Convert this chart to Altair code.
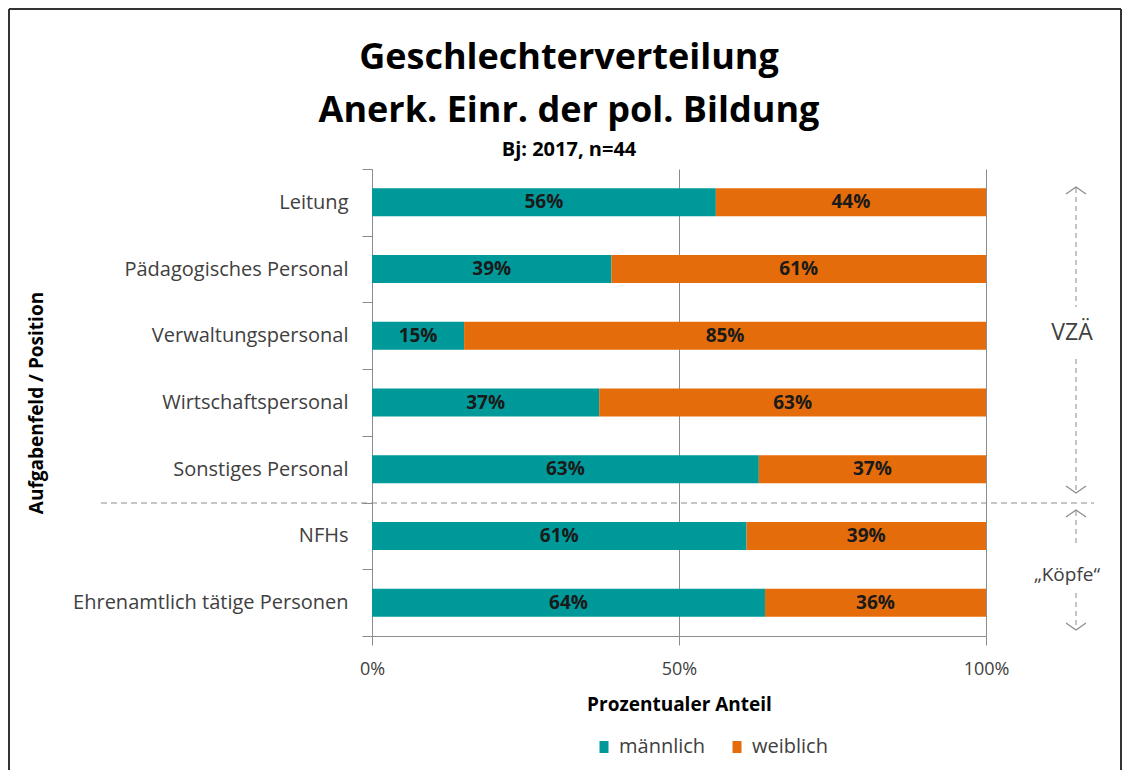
import altair as alt
import pandas as pd

# ---------------- data ----------------
categories = [
    "Leitung",
    "Pädagogisches Personal",
    "Verwaltungspersonal",
    "Wirtschaftspersonal",
    "Sonstiges Personal",
    "NFHs",
    "Ehrenamtlich tätige Personen",
]
maennlich = [56, 39, 15, 37, 63, 61, 64]
weiblich = [44, 61, 85, 63, 37, 39, 36]
series = ["männlich", "weiblich"]
colors = ["#009999", "#E46C0A"]
x_ticks = [0, 50, 100]

title_lines = ["Geschlechterverteilung", "Anerk. Einr. der pol. Bildung"]
subtitle = "Bj: 2017, n=44"
group_labels = ["VZÄ", "„Köpfe“"]

rows = []
for c, m, w in zip(categories, maennlich, weiblich):
    rows.append({"Aufgabenfeld": c, "Geschlecht": series[0], "Anteil": m, "ord": 0})
    rows.append({"Aufgabenfeld": c, "Geschlecht": series[1], "Anteil": w, "ord": 1})
df = pd.DataFrame(rows)

W, H = 614, 467
FONT = "Open Sans"
GRAY = "#8c8c8c"
TXT = "#404040"

base = (
    alt.Chart(df)
    .transform_stack(
        stack="Anteil",
        groupby=["Aufgabenfeld"],
        as_=["x0", "x1"],
        sort=[alt.SortField("ord", order="ascending")],
    )
    .transform_calculate(mid="(datum.x0 + datum.x1) / 2", label="datum.Anteil + '%'")
)

y_enc = alt.Y(
    "Aufgabenfeld:N",
    sort=categories,
    scale=alt.Scale(paddingInner=0, paddingOuter=0),
    axis=alt.Axis(
        title="Aufgabenfeld  / Position",
        titleFont=FONT,
        titleFontSize=19,
        titleFontWeight="bold",
        titleColor="#000000",
        titleX=-326,
        titleY=H / 2,
        labelFont=FONT,
        labelFontSize=20,
        labelColor=TXT,
        labelPadding=14,
        labelLimit=500,
        tickBand="extent",
        tickSize=10,
        tickColor=GRAY,
        domainColor=GRAY,
        grid=False,
    ),
)

x_scale = alt.Scale(domain=[0, 100], nice=False)
x_axis = alt.Axis(
    values=x_ticks,
    labelExpr="datum.value + '%'",
    labelFlush=False,
    title="Prozentualer Anteil",
    titleFont=FONT,
    titleFontSize=19,
    titleFontWeight="bold",
    titleColor="#000000",
    titleY=59,
    labelFont=FONT,
    labelFontSize=18,
    labelColor=TXT,
    labelPadding=15,
    tickSize=9,
    tickColor=GRAY,
    domainColor=GRAY,
    grid=True,
    gridColor=GRAY,
    gridOpacity=1,
)

bars = base.mark_bar(size=28).encode(
    x=alt.X("x0:Q", scale=x_scale, axis=x_axis),
    x2="x1:Q",
    y=y_enc,
    color=alt.Color(
        "Geschlecht:N",
        scale=alt.Scale(domain=series, range=colors),
        legend=alt.Legend(
            title=None,
            orient="none",
            direction="horizontal",
            legendX=222,
            legendY=568,
            symbolType="M-0.75,-1H0.75V1H-0.75Z",
            symbolSize=144,
            symbolStrokeWidth=0,
            symbolOpacity=1,
            labelFont=FONT,
            labelFontSize=20,
            labelColor=TXT,
            columnPadding=21,
            labelOffset=5,
        ),
    ),
)

bar_text = base.mark_text(
    font=FONT, fontSize=19, fontWeight="bold", color="#1a1a1a"
).encode(
    x=alt.X("mid:Q", scale=x_scale),
    y=alt.Y("Aufgabenfeld:N", sort=categories),
    text="label:N",
)

one = alt.Data(values=[{}])


def rule(x, x2, y, y2, color, width=1, dash=None):
    kw = dict(color=color, strokeWidth=width)
    if dash:
        kw["strokeDash"] = dash
    return alt.Chart(one).mark_rule(**kw).encode(
        x=alt.value(x), x2=alt.value(x2), y=alt.value(y), y2=alt.value(y2)
    )


def text(t, x, y, size, weight="normal", color="#000000"):
    return alt.Chart(one).mark_text(
        text=t, font=FONT, fontSize=size, fontWeight=weight, color=color,
        align="center", baseline="middle",
    ).encode(x=alt.value(x), y=alt.value(y))


def chevron(x, y, up=True):
    path = "M-1,0.7L0,0L1,0.7" if up else "M-1,-0.7L0,0L1,-0.7"
    return alt.Chart(one).mark_point(
        shape=path, size=400, filled=False, stroke=GRAY, strokeWidth=1.3, opacity=1
    ).encode(x=alt.value(x), y=alt.value(y))


# outer frame (left, top, right)
frame = [
    rule(-363, -363, -160, 601, "#333333", 2),
    rule(-363, 749, -160, -160, "#333333", 2),
    rule(749, 749, -160, 601, "#333333", 2),
]

# separator between VZÄ and Köpfe groups
sep = rule(-271, 722, 334, 334, GRAY, 1, [6, 4])

ax = 704
annot = [
    rule(ax, ax, 19, 138, GRAY, 1, [5, 4]),
    rule(ax, ax, 190, 323, GRAY, 1, [5, 4]),
    rule(ax, ax, 342, 378, GRAY, 1, [5, 4]),
    rule(ax, ax, 424, 460, GRAY, 1, [5, 4]),
    chevron(ax, 18, True),
    chevron(ax, 324, False),
    chevron(ax, 341, True),
    chevron(ax, 461, False),
    text(group_labels[0], 700, 164, 23, color=TXT),
    text(group_labels[1], 695, 406, 19, color=TXT),
]

titles = [
    text(title_lines[0], 197, -111, 36, "bold"),
    text(title_lines[1], 197, -58, 36, "bold"),
    text(subtitle, 197, -19, 20, "bold"),
]

chart = (
    alt.layer(*frame, bars, bar_text, sep, *annot, *titles)
    .properties(width=W, height=H, padding=0, background="white")
    .configure_view(stroke=None)
)

chart.save("out.html", embed_options={"renderer": "svg", "actions": False})
